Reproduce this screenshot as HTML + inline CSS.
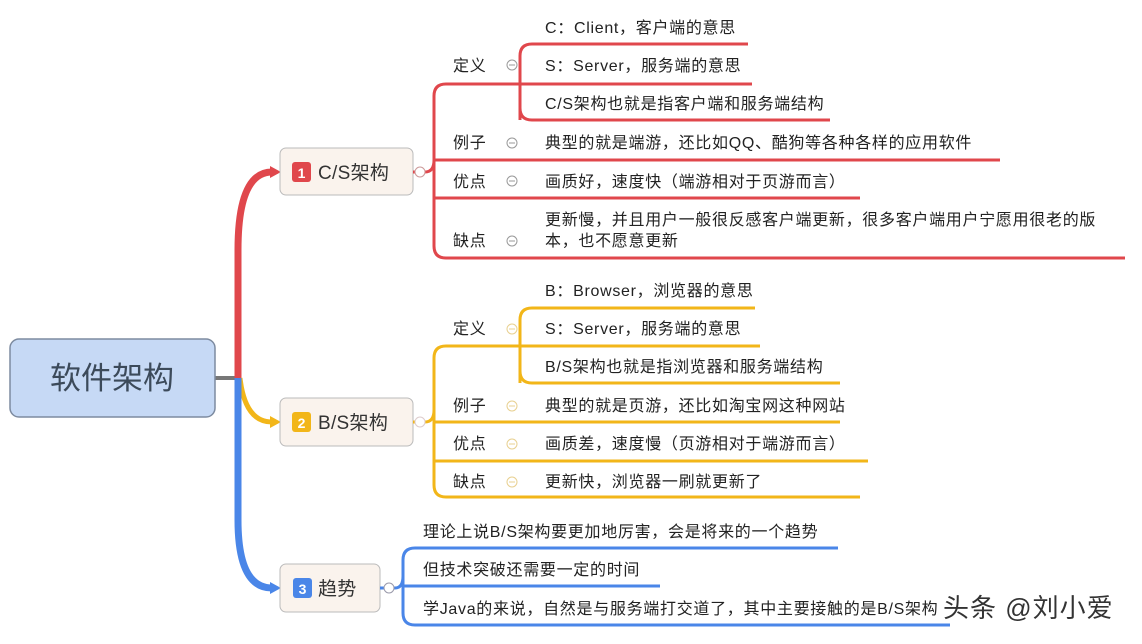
<!DOCTYPE html>
<html><head><meta charset="utf-8"><style>
html,body{margin:0;padding:0;background:#fff;}
svg{display:block;}
text{font-family:"Liberation Sans","Noto Sans CJK SC",sans-serif;font-size:16px;letter-spacing:0.7px;fill:#222;}
</style></head><body>
<svg width="1142" height="644" viewBox="0 0 1142 644" xmlns="http://www.w3.org/2000/svg">
<line x1="215" y1="378" x2="238" y2="378" stroke="#777" stroke-width="4"/>
<path d="M238,378 L238,250 Q238,172 272,172" fill="none" stroke="#e0474c" stroke-width="7"/>
<polygon points="270,166 281,172 270,178" fill="#e0474c"/>
<path d="M240,378 Q245,422 272,422" fill="none" stroke="#f2b619" stroke-width="5"/>
<polygon points="270,416 281,422 270,428" fill="#f2b619"/>
<path d="M238,378 L238,520 Q238,588 272,588" fill="none" stroke="#4a86e8" stroke-width="7"/>
<polygon points="270,582 281,588 270,594" fill="#4a86e8"/>
<rect x="10" y="339" width="205" height="78" rx="9" fill="#c6d9f5" stroke="#7d8ba0" stroke-width="1.5"/>
<text x="112" y="389" text-anchor="middle" style="font-size:31px;letter-spacing:0;fill:#3c4a5a">软件架构</text>
<g stroke="#bbb" stroke-width="1"><rect x="280" y="148" width="133" height="47" rx="6" fill="#faf3ed"/>
<rect x="280" y="398" width="133" height="48" rx="6" fill="#faf3ed"/>
<rect x="280" y="564" width="100" height="48" rx="6" fill="#faf3ed"/></g>
<rect x="292" y="162" width="19" height="20" rx="3" fill="#e0474c"/><text x="301.5" y="178" text-anchor="middle" style="fill:#fff;font-size:14px;letter-spacing:0;font-weight:bold">1</text>
<text x="318" y="179" style="font-size:19px;letter-spacing:0.3px;fill:#333">C/S架构</text>
<rect x="292" y="412" width="19" height="20" rx="3" fill="#f2b619"/><text x="301.5" y="428" text-anchor="middle" style="fill:#fff;font-size:14px;letter-spacing:0;font-weight:bold">2</text>
<text x="318" y="429" style="font-size:19px;letter-spacing:0.3px;fill:#333">B/S架构</text>
<rect x="293" y="578" width="19" height="20" rx="3" fill="#4a86e8"/><text x="302.5" y="594" text-anchor="middle" style="fill:#fff;font-size:14px;letter-spacing:0;font-weight:bold">3</text>
<text x="318" y="595" style="font-size:19px;letter-spacing:0.3px;fill:#333">趋势</text>
<g fill="none" stroke="#e0474c" stroke-width="3">
<path d="M413,172 L425,172 Q434,172 434,160 L434,96 Q434,84 446,84 L520,84"/>
<path d="M434,160 L434,246 Q434,258 446,258 L1125,258"/>
<line x1="434" y1="160" x2="1000" y2="160"/>
<line x1="434" y1="198" x2="860" y2="198"/>
<path d="M520,120 L520,56 Q520,44 532,44 L748,44"/>
<line x1="520" y1="84" x2="752" y2="84"/>
<path d="M520,84 L520,108 Q520,120 532,120 L830,120"/>
</g>
<g fill="none" stroke="#f2b619" stroke-width="3">
<path d="M413,422 L425,422 Q434,422 434,410 L434,358 Q434,346 446,346 L520,346"/>
<path d="M434,410 L434,485 Q434,497 446,497 L860,497"/>
<line x1="434" y1="422" x2="840" y2="422"/>
<line x1="434" y1="461" x2="868" y2="461"/>
<path d="M520,383 L520,320 Q520,308 532,308 L755,308"/>
<line x1="520" y1="346" x2="760" y2="346"/>
<path d="M520,346 L520,371 Q520,383 532,383 L840,383"/>
</g>
<g fill="none" stroke="#4a86e8" stroke-width="3">
<path d="M380,588 L395,588 Q403,588 403,576 L403,560 Q403,548 415,548 L838,548"/>
<path d="M403,576 L403,613 Q403,625 415,625 L950,625"/>
<line x1="403" y1="586" x2="660" y2="586"/>
</g>
<g fill="#fff" stroke-width="1">
<circle cx="420" cy="172" r="5" stroke="#c99"/>
<circle cx="420" cy="422" r="5" stroke="#dcc"/>
<circle cx="389" cy="588" r="5" stroke="#99a"/>
</g>
<g fill="none" stroke="#999" stroke-width="1">
<circle cx="512" cy="65" r="5"/><circle cx="512" cy="143" r="5"/><circle cx="512" cy="181" r="5"/><circle cx="512" cy="241" r="5"/>
<circle cx="512" cy="329" r="5" stroke="#e8d090"/><circle cx="512" cy="406" r="5" stroke="#e8d090"/><circle cx="512" cy="444" r="5" stroke="#e8d090"/><circle cx="512" cy="482" r="5" stroke="#e8d090"/>
</g>
<g stroke="#999" stroke-width="1">
<line x1="509" y1="65" x2="515" y2="65"/><line x1="509" y1="143" x2="515" y2="143"/><line x1="509" y1="181" x2="515" y2="181"/><line x1="509" y1="241" x2="515" y2="241"/>
<line x1="509" y1="329" x2="515" y2="329" stroke="#e8d090"/><line x1="509" y1="406" x2="515" y2="406" stroke="#e8d090"/><line x1="509" y1="444" x2="515" y2="444" stroke="#e8d090"/><line x1="509" y1="482" x2="515" y2="482" stroke="#e8d090"/>
</g>
<text x="453" y="71">定义</text><text x="453" y="148">例子</text><text x="453" y="187">优点</text><text x="453" y="246">缺点</text>
<text x="545" y="33">C：Client，客户端的意思</text>
<text x="545" y="71">S：Server，服务端的意思</text>
<text x="545" y="109">C/S架构也就是指客户端和服务端结构</text>
<text x="545" y="148">典型的就是端游，还比如QQ、酷狗等各种各样的应用软件</text>
<text x="545" y="187">画质好，速度快（端游相对于页游而言）</text>
<text x="545" y="225">更新慢，并且用户一般很反感客户端更新，很多客户端用户宁愿用很老的版</text>
<text x="545" y="246">本，也不愿意更新</text>
<text x="453" y="334">定义</text><text x="453" y="411">例子</text><text x="453" y="449">优点</text><text x="453" y="487">缺点</text>
<text x="545" y="296">B：Browser，浏览器的意思</text>
<text x="545" y="334">S：Server，服务端的意思</text>
<text x="545" y="372">B/S架构也就是指浏览器和服务端结构</text>
<text x="545" y="411">典型的就是页游，还比如淘宝网这种网站</text>
<text x="545" y="449">画质差，速度慢（页游相对于端游而言）</text>
<text x="545" y="487">更新快，浏览器一刷就更新了</text>
<text x="423" y="537">理论上说B/S架构要更加地厉害，会是将来的一个趋势</text>
<text x="423" y="575">但技术突破还需要一定的时间</text>
<text x="423" y="614">学Java的来说，自然是与服务端打交道了，其中主要接触的是B/S架构</text>
<text x="943" y="617" style="font-size:26px;letter-spacing:1px;fill:#333;stroke:#fff;stroke-width:3;paint-order:stroke">头条 @刘小爱</text>
</svg>
</body></html>
